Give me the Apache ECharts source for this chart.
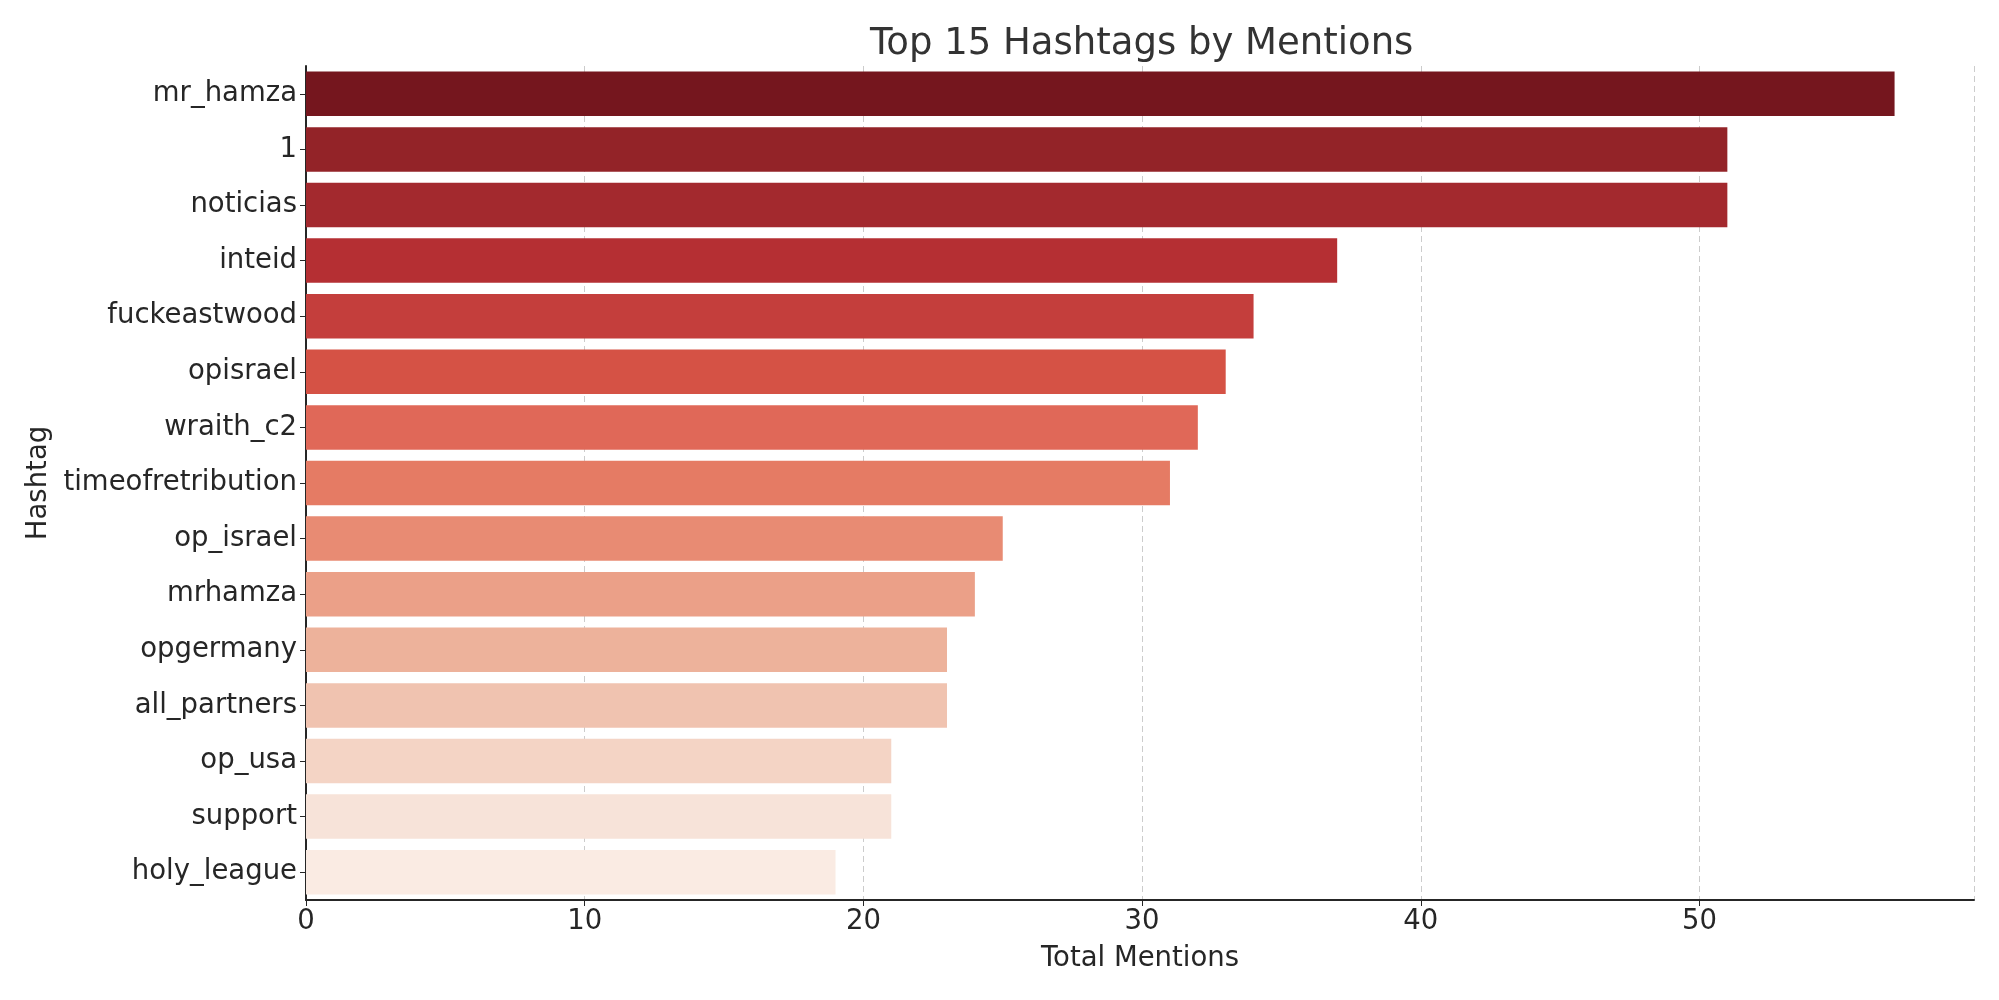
<!DOCTYPE html>
<html lang="en">
<head>
    <meta charset="UTF-8">
    <title>Top 15 Hashtags by Mentions</title>
    <script src="https://cdn.jsdelivr.net/npm/echarts@6/dist/echarts.min.js"></script>
</head>
<body style="margin: 0">
<div id="chart" style="width: 1999px;height: 1000px"></div>
<script>
    // data
    const hashtags = ['mr_hamza', '1', 'noticias', 'inteid', 'fuckeastwood', 'opisrael', 'wraith_c2',
        'timeofretribution', 'op_israel', 'mrhamza', 'opgermany', 'all_partners', 'op_usa', 'support', 'holy_league'];
    const mentions = [57, 51, 51, 37, 34, 33, 32, 31, 25, 24, 23, 23, 21, 21, 19];
    const barColors = ['#75161E', '#932328', '#A3292E', '#B52F33', '#C43E3C', '#D55245', '#E06858',
        '#E57B64', '#E88B73', '#EBA088', '#EDB29B', '#F0C3B0', '#F4D4C5', '#F7E3D9', '#FAEBE3'];

    const font = 'DejaVu Sans';
    const textColor = '#262626';

    let chart = echarts.init(document.getElementById('chart'));
    let option = {
        animation: false,
        title: {
            // centred over the plot area, not the page
            text: 'Top 15 Hashtags by Mentions',
            left: 865,
            top: 21,
            textStyle: {
                fontFamily: font,
                fontSize: 37,
                fontWeight: 'normal',
                color: '#333333'
            }
        },
        grid: {
            left: 306,
            right: 25,
            top: 66,
            bottom: 100
        },
        xAxis: {
            type: 'value',
            min: 0,
            max: 59.85,
            interval: 10,
            name: 'Total Mentions',
            nameLocation: 'middle',
            nameGap: 45,
            nameTextStyle: {fontFamily: font, fontSize: 27.5, color: textColor},
            axisLine: {show: true, lineStyle: {color: '#262626', width: 2}},
            axisTick: {show: true, length: 6, lineStyle: {color: '#262626'}},
            axisLabel: {
                fontFamily: font, fontSize: 27.5, color: textColor, margin: 8,
                showMaxLabel: false,
                formatter: function (v) {
                    return v % 10 === 0 ? String(v) : '';
                }
            },
            splitLine: {show: true, lineStyle: {color: '#cccccc', type: [6, 4], width: 1}}
        },
        yAxis: {
            type: 'category',
            data: hashtags,
            inverse: true,
            name: 'Hashtag',
            nameLocation: 'middle',
            nameGap: 250,
            nameRotate: 90,
            nameTextStyle: {fontFamily: font, fontSize: 27.5, color: textColor},
            axisLine: {show: true, lineStyle: {color: '#262626', width: 2}},
            axisTick: {show: true, alignWithLabel: true, length: 6, lineStyle: {color: '#262626'}},
            axisLabel: {fontFamily: font, fontSize: 27.5, color: textColor, margin: 9},
            splitLine: {show: false}
        },
        series: [{
            type: 'bar',
            barCategoryGap: '20%',
            data: mentions.map(function (v, i) {
                return {value: v, itemStyle: {color: barColors[i]}};
            })
        }]
    };
    chart.setOption(option);
</script>
</body>
</html>
